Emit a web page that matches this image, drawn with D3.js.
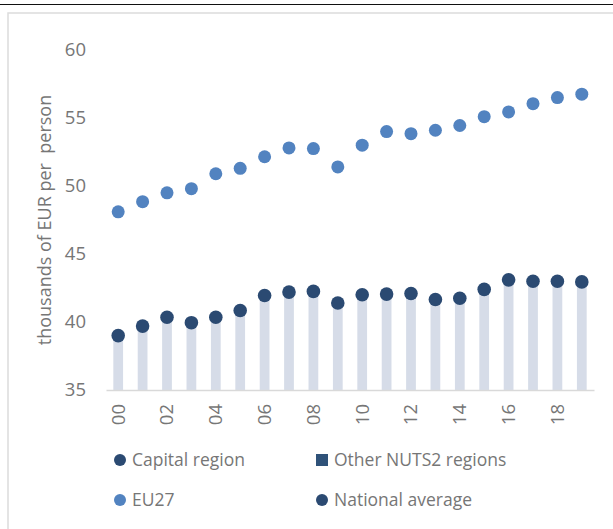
<!DOCTYPE html>
<meta charset="utf-8">
<style>
    body {margin: 0; background: #fff;}
    svg {display: block; font-family: 'Open Sans', sans-serif;}
</style>

<svg width="613" height="529"></svg>

<script src="https://cdnjs.cloudflare.com/ajax/libs/d3/7.8.5/d3.min.js"></script>
<script>

// data
var years = ["00","01","02","03","04","05","06","07","08","09",
             "10","11","12","13","14","15","16","17","18","19"];
var eu27 = [48.1, 48.85, 49.5, 49.8, 50.9, 51.3, 52.15, 52.8, 52.75, 51.4,
            53.0, 54.0, 53.85, 54.1, 54.45, 55.1, 55.45, 56.05, 56.5, 56.75];
var national = [39.0, 39.7, 40.35, 39.95, 40.35, 40.85, 41.95, 42.2, 42.25, 41.4,
                42.0, 42.05, 42.1, 41.65, 41.75, 42.4, 43.1, 43.0, 43.0, 42.95];
var yTicks = [35, 40, 45, 50, 55, 60];
var legendItems = [
    {name: "Capital region", shape: "circle", color: "#2b4a72"},
    {name: "Other NUTS2 regions", shape: "square", color: "#2f5279"},
    {name: "EU27", shape: "circle", color: "#5283c0"},
    {name: "National average", shape: "circle", color: "#2b4a72"}
];

var svg = d3.select("svg"),
    width = +svg.attr("width"),
    height = +svg.attr("height");

var textColor = "#767676";

// frame
svg.append("line")
    .attr("x1", 0).attr("x2", width)
    .attr("y1", 4.5).attr("y2", 4.5)
    .style("stroke", "#111")
    .style("stroke-width", 1.2);

svg.append("rect")
    .attr("x", 8).attr("y", 13)
    .attr("width", width).attr("height", height)
    .style("fill", "none")
    .style("stroke", "#dcdcdc")
    .style("stroke-width", 1.5);

var x = d3.scaleBand()
    .domain(years)
    .range([106, 594])
    .paddingInner(0.6)
    .paddingOuter(0.3);

var y = d3.scaleLinear()
    .domain([35, 60])
    .range([390, 50]);

// y axis (labels only)
var yAxis = svg.append("g")
    .attr("transform", "translate(96,0)")
    .call(d3.axisLeft(y).tickValues(yTicks).tickSize(0).tickPadding(10));
yAxis.select(".domain").remove();
yAxis.selectAll("text")
    .style("font-size", "18.5px")
    .style("font-family", "'Open Sans', sans-serif")
    .style("fill", textColor);

svg.append("text")
    .attr("transform", "translate(51," + 220 + ") rotate(-90)")
    .attr("text-anchor", "middle")
    .attr("xml:space", "preserve")
    .style("font-size", "18px")
    .style("fill", textColor)
    .text("thousands of EUR per  person");

// bars
svg.append("g")
    .selectAll("rect")
    .data(national)
    .enter().append("rect")
    .attr("x", function(d, i) { return x(years[i]); })
    .attr("y", function(d) { return y(d); })
    .attr("width", x.bandwidth())
    .attr("height", function(d) { return y(35) - y(d); })
    .style("fill", "#d6dce8");

// x axis
var xAxis = svg.append("g")
    .attr("transform", "translate(0," + y(35) + ")")
    .call(d3.axisBottom(x).tickSize(0)
        .tickFormat(function(d, i) { return i % 2 === 0 ? d : ""; }));
xAxis.select(".domain")
    .style("stroke", "#d9d9d9")
    .style("stroke-width", 1.5);
xAxis.selectAll("text")
    .attr("transform", "rotate(-90)")
    .attr("text-anchor", "end")
    .attr("x", -14)
    .attr("y", 0)
    .attr("dy", "0.35em")
    .style("font-size", "18.5px")
    .style("font-family", "'Open Sans', sans-serif")
    .style("fill", textColor);

// dots
svg.append("g")
    .selectAll("circle")
    .data(eu27)
    .enter().append("circle")
    .attr("cx", function(d, i) { return x(years[i]) + x.bandwidth() / 2; })
    .attr("cy", function(d) { return y(d); })
    .attr("r", 6.5)
    .style("fill", "#5283c0");

svg.append("g")
    .selectAll("circle")
    .data(national)
    .enter().append("circle")
    .attr("cx", function(d, i) { return x(years[i]) + x.bandwidth() / 2; })
    .attr("cy", function(d) { return y(d); })
    .attr("r", 6.8)
    .style("fill", "#2b4a72");

// legend
var legend = svg.append("g")
    .selectAll("g")
    .data(legendItems)
    .enter().append("g")
    .attr("transform", function(d, i) {
        return "translate(" + (i % 2 === 0 ? 120 : 322) + "," + (i < 2 ? 460 : 500) + ")";
    });

legend.each(function(d) {
    var g = d3.select(this);
    if (d.shape === "circle") {
        g.append("circle").attr("r", 6).style("fill", d.color);
    } else {
        g.append("rect").attr("x", -6).attr("y", -6)
            .attr("width", 12).attr("height", 12).style("fill", d.color);
    }
    g.append("text")
        .attr("x", 12)
        .attr("dy", "0.35em")
        .style("font-size", "17.5px")
        .style("fill", textColor)
        .text(d.name);
});

</script>
